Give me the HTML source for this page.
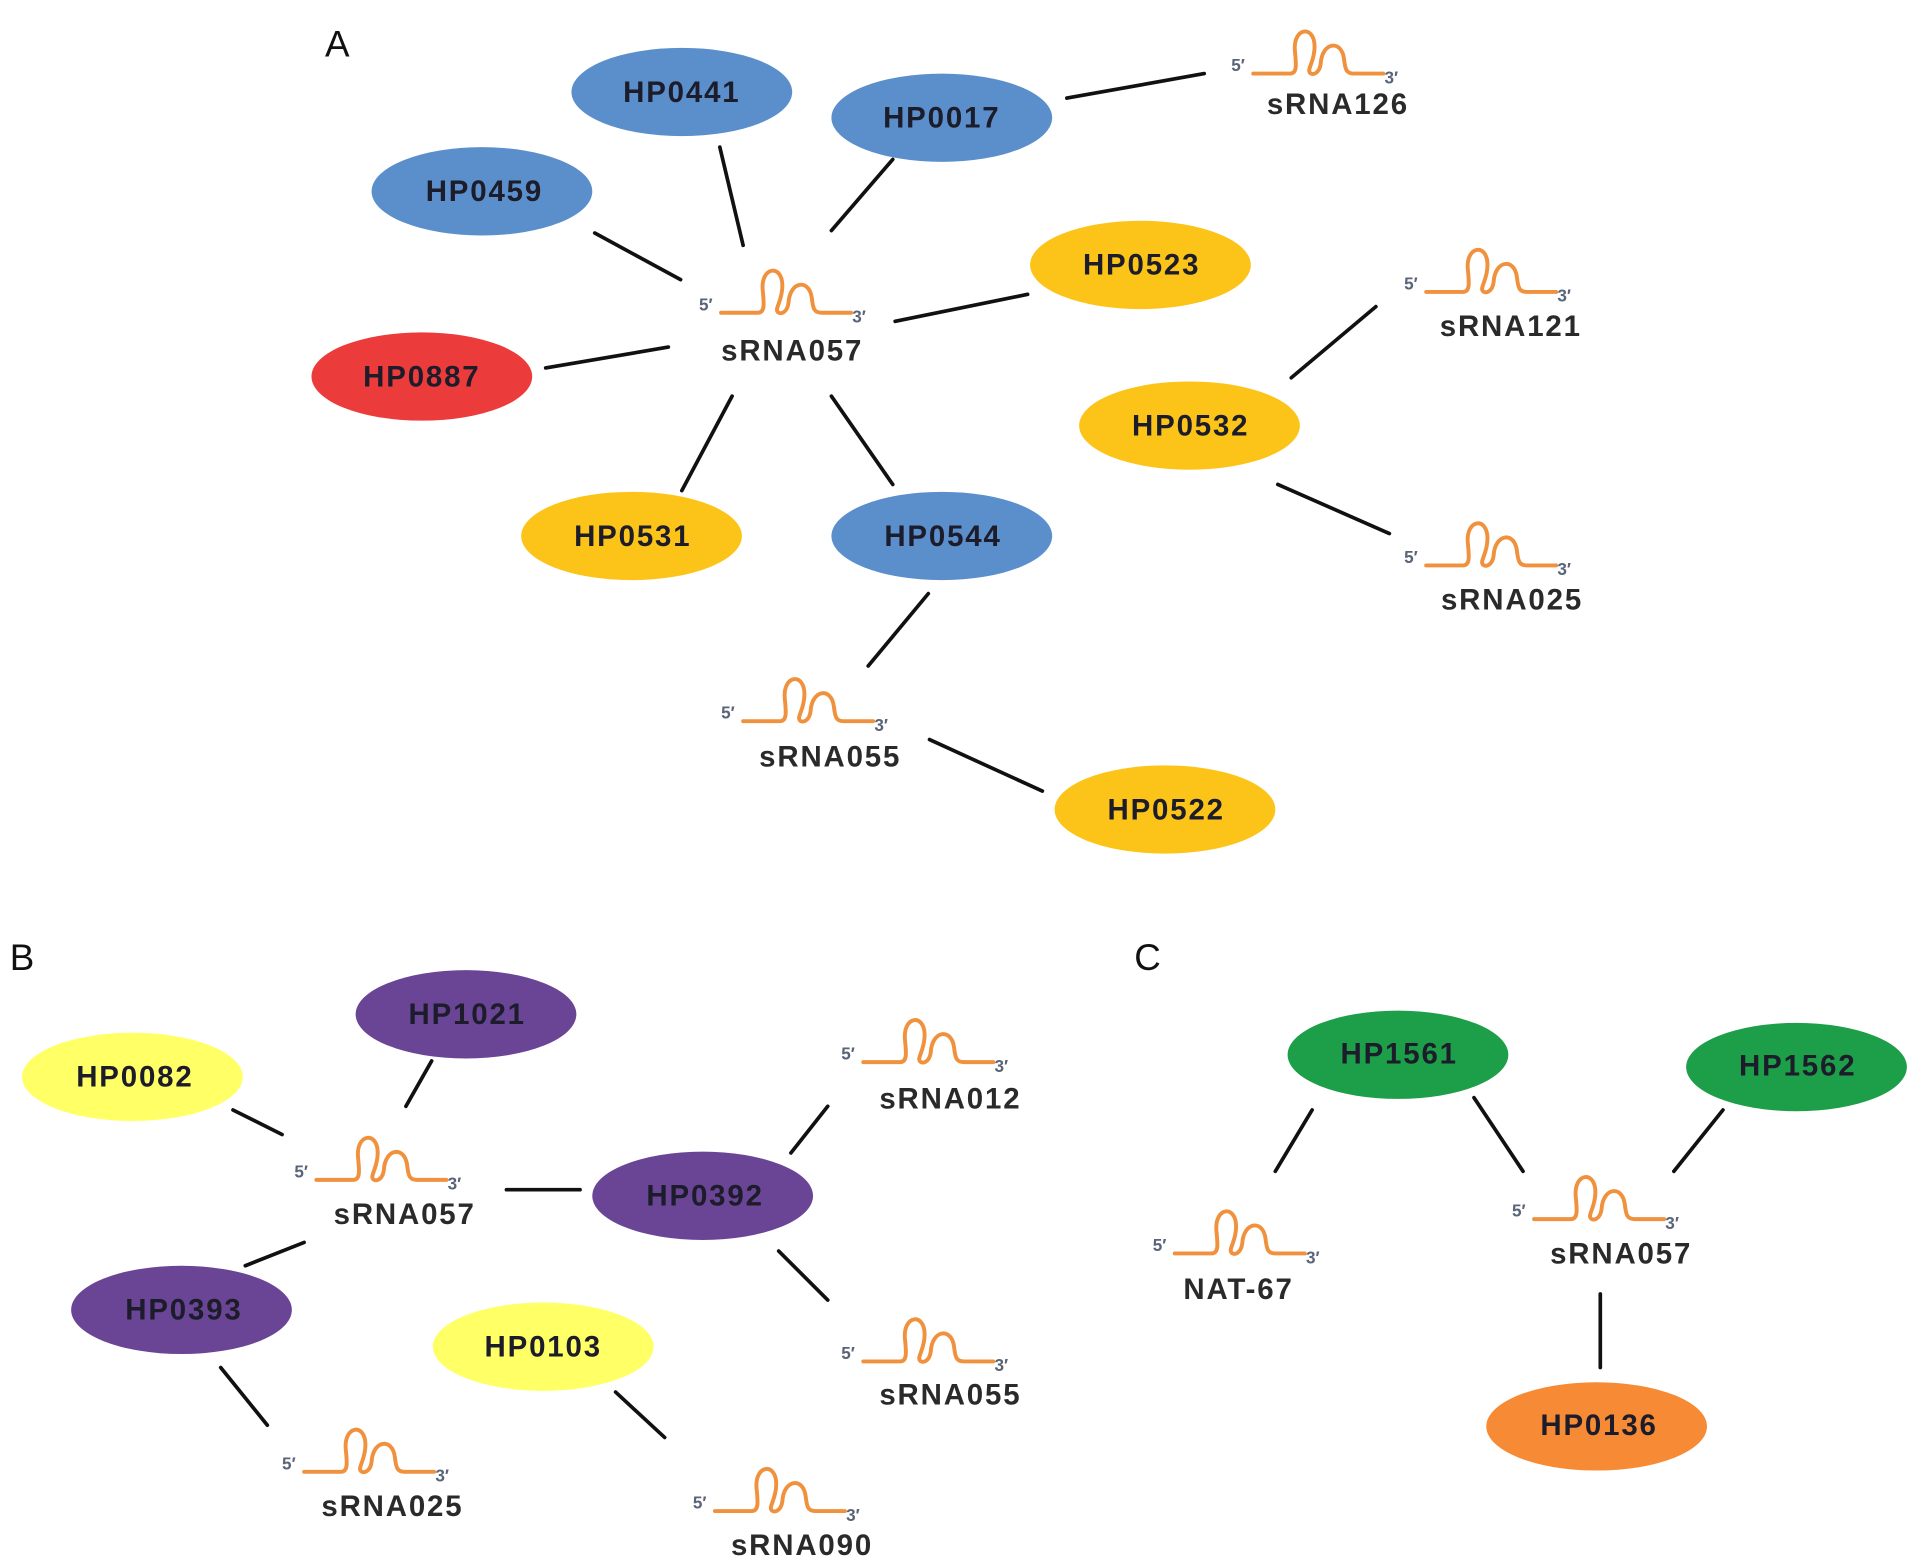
<!DOCTYPE html>
<html><head><meta charset="utf-8"><style>html,body{margin:0;padding:0;background:#fff}svg{display:block}</style></head>
<body>
<svg width="1913" height="1565" viewBox="0 0 1560 1276" preserveAspectRatio="none" xmlns="http://www.w3.org/2000/svg" font-family="Liberation Sans, sans-serif">
<defs>
<g id="rna">
<path d="M0 0 H30 C36 0 35 -8 34 -18 C32 -38 50 -40 50 -22 C50 -10 44 -4 46 -1 C48 2 54 0 55 -8 C56 -26 72 -28 74 -12 C75 -3 76 0 82 0 H106" fill="none" stroke="#f0913e" stroke-width="3.2" stroke-linecap="round"/>
<text x="-18" y="-2" font-size="14" font-weight="bold" fill="#5a6478">5′</text>
<text x="107" y="8" font-size="14" font-weight="bold" fill="#5a6478">3′</text>
</g>
</defs>
<g font-size="30" fill="#111">
<text x="265" y="46">A</text><text x="8" y="791">B</text><text x="925" y="791">C</text>
</g>
<g stroke="#111" stroke-width="3" stroke-linecap="round">
<line x1="587" y1="120" x2="606" y2="200"/>
<line x1="728" y1="130" x2="678" y2="188"/>
<line x1="485" y1="190" x2="555" y2="228"/>
<line x1="838" y1="240" x2="730" y2="262"/>
<line x1="445" y1="300" x2="545" y2="283"/>
<line x1="597" y1="323" x2="556" y2="400"/>
<line x1="678" y1="323" x2="728" y2="395"/>
<line x1="870" y1="80" x2="982" y2="60"/>
<line x1="1053" y1="308" x2="1122" y2="250"/>
<line x1="1042" y1="395" x2="1133" y2="435"/>
<line x1="757" y1="484" x2="708" y2="543"/>
<line x1="758" y1="603" x2="850" y2="645"/>
<line x1="352" y1="865" x2="331" y2="902"/>
<line x1="190" y1="905" x2="230" y2="925"/>
<line x1="413" y1="970" x2="473" y2="970"/>
<line x1="248" y1="1013" x2="200" y2="1032"/>
<line x1="675" y1="902" x2="645" y2="940"/>
<line x1="635" y1="1020" x2="675" y2="1060"/>
<line x1="180" y1="1115" x2="218" y2="1162"/>
<line x1="502" y1="1135" x2="542" y2="1172"/>
<line x1="1070" y1="905" x2="1040" y2="955"/>
<line x1="1202" y1="895" x2="1242" y2="955"/>
<line x1="1405" y1="905" x2="1365" y2="955"/>
<line x1="1305" y1="1055" x2="1305" y2="1115"/>
</g>
<g>
<ellipse cx="556" cy="75" rx="90" ry="36" fill="#5b8fcc"/>
<ellipse cx="768" cy="96" rx="90" ry="36" fill="#5b8fcc"/>
<ellipse cx="393" cy="156" rx="90" ry="36" fill="#5b8fcc"/>
<ellipse cx="930" cy="216" rx="90" ry="36" fill="#fcc419"/>
<ellipse cx="344" cy="307" rx="90" ry="36" fill="#ec3b3b"/>
<ellipse cx="970" cy="347" rx="90" ry="36" fill="#fcc419"/>
<ellipse cx="515" cy="437" rx="90" ry="36" fill="#fcc419"/>
<ellipse cx="768" cy="437" rx="90" ry="36" fill="#5b8fcc"/>
<ellipse cx="950" cy="660" rx="90" ry="36" fill="#fcc419"/>
<ellipse cx="380" cy="827" rx="90" ry="36" fill="#6a4596"/>
<ellipse cx="108" cy="878" rx="90" ry="36" fill="#ffff66"/>
<ellipse cx="573" cy="975" rx="90" ry="36" fill="#6a4596"/>
<ellipse cx="148" cy="1068" rx="90" ry="36" fill="#6a4596"/>
<ellipse cx="443" cy="1098" rx="90" ry="36" fill="#ffff66"/>
<ellipse cx="1140" cy="860" rx="90" ry="36" fill="#1d9e48"/>
<ellipse cx="1465" cy="870" rx="90" ry="36" fill="#1d9e48"/>
<ellipse cx="1302" cy="1163" rx="90" ry="36" fill="#f78b35"/>
</g>
<g font-size="24" font-weight="bold" fill="#1c1c2a" text-anchor="middle" letter-spacing="1.5">
<text x="556" y="83">HP0441</text><text x="768" y="104">HP0017</text><text x="395" y="164">HP0459</text>
<text x="931" y="224">HP0523</text><text x="344" y="315">HP0887</text><text x="971" y="355">HP0532</text>
<text x="516" y="445">HP0531</text><text x="769" y="445">HP0544</text><text x="951" y="668">HP0522</text>
<text x="381" y="835">HP1021</text><text x="110" y="886">HP0082</text><text x="575" y="983">HP0392</text>
<text x="150" y="1076">HP0393</text><text x="443" y="1106">HP0103</text>
<text x="1141" y="867">HP1561</text><text x="1466" y="877">HP1562</text><text x="1304" y="1170">HP0136</text>
</g>
<g>
<use href="#rna" x="588" y="255"/><use href="#rna" x="1022" y="60"/><use href="#rna" x="1163" y="238"/>
<use href="#rna" x="1163" y="461"/><use href="#rna" x="606" y="588"/>
<use href="#rna" x="704" y="866"/><use href="#rna" x="258" y="962"/><use href="#rna" x="704" y="1110"/>
<use href="#rna" x="248" y="1200"/><use href="#rna" x="583" y="1232"/>
<use href="#rna" x="958" y="1022"/><use href="#rna" x="1251" y="994"/>
</g>
<g font-size="24" font-weight="bold" fill="#2a2a2a" text-anchor="middle" letter-spacing="1.5">
<text x="646" y="294">sRNA057</text><text x="1091" y="93">sRNA126</text><text x="1232" y="274">sRNA121</text>
<text x="1233" y="497">sRNA025</text><text x="677" y="625">sRNA055</text>
<text x="775" y="904">sRNA012</text><text x="330" y="998">sRNA057</text><text x="775" y="1145">sRNA055</text>
<text x="320" y="1236">sRNA025</text><text x="654" y="1268">sRNA090</text>
<text x="1010" y="1059">NAT-67</text><text x="1322" y="1030">sRNA057</text>
</g>
</svg>
</body></html>
